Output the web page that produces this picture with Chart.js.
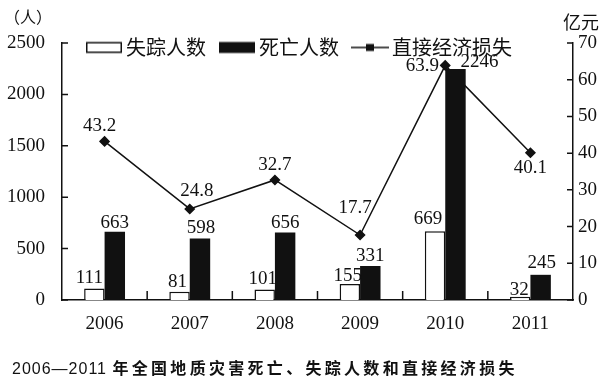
<!DOCTYPE html>
<html><head><meta charset="utf-8">
<script src="https://cdn.jsdelivr.net/npm/chart.js@4"></script>
<style>
html,body{margin:0;padding:0;background:#fff;}
#wrap{position:relative;width:609px;height:381px;overflow:hidden;}
#c{position:absolute;left:0;top:0;}
.t{position:absolute;white-space:nowrap;color:#111;line-height:1;}
</style></head><body>
<div id="wrap">
<canvas id="c" width="609" height="381"></canvas>
<div class="t" style="left:4px;top:4px;font:16px 'Noto Sans CJK SC'">（人）</div>
<div class="t" style="left:563px;top:8px;font:18px 'Noto Sans CJK SC'">亿元</div>
<div class="t" style="left:12px;top:355px;"><span style="font:16px 'Liberation Sans';letter-spacing:1px">2006—2011 </span><span style="font:bold 16px 'Noto Sans CJK SC';letter-spacing:3.3px">年全国地质灾害死亡、失踪人数和直接经济损失</span></div>
</div>
<script>
// ---- data ----
const years = ['2006', '2007', '2008', '2009', '2010', '2011'];
const missing = [111, 81, 101, 155, 669, 32];
const deaths = [663, 598, 656, 331, 2246, 245];
const loss = [43.2, 24.8, 32.7, 17.7, 63.9, 40.1];
const leftTicks = [0, 500, 1000, 1500, 2000, 2500];
const rightTicks = [0, 10, 20, 30, 40, 50, 60, 70];
const seriesNames = ['失踪人数', '死亡人数', '直接经济损失'];

// ---- styles ----
const INK = '#111';
const SERIF = 'Liberation Serif';
const NUM_SIZE = 19;
Chart.defaults.font.family = SERIF;
Chart.defaults.font.size = NUM_SIZE;
Chart.defaults.color = INK;
const numFont = {family: SERIF, size: NUM_SIZE};
const missingLabelOff = [[-5,-11],[-2,-10],[-2,-11],[-2,-8],[-7,-12],[-1,-7]];
const deathsLabelOff = [[0,-9],[1,-11],[0,-10],[0,-10],[24,-7],[1,-12]];
const lossLabelOff = [[-5,-15],[7,-18],[0,-15],[-5,-27],[-23,1],[0,15]];

function makeIcon(kind) {
  const c = document.createElement('canvas');
  c.width = 38; c.height = 14;
  const g = c.getContext('2d');
  if (kind === 0) {
    g.fillStyle = '#fff'; g.fillRect(1, 1.5, 36, 11);
    g.strokeStyle = INK; g.lineWidth = 1.5; g.strokeRect(1.75, 2.25, 34.5, 9.5);
  } else if (kind === 1) {
    g.fillStyle = INK; g.fillRect(1, 1.5, 36, 11);
  } else {
    g.strokeStyle = INK; g.lineWidth = 1.5;
    g.beginPath(); g.moveTo(0, 7); g.lineTo(38, 7); g.stroke();
    g.fillStyle = INK; g.fillRect(15, 3.5, 8, 7);
  }
  return c;
}
const icons = [makeIcon(0), makeIcon(1), makeIcon(2)];

const innerTicks = {
  id: 'innerTicks',
  afterDraw(chart) {
    const {ctx} = chart;
    const x = chart.scales.x, y = chart.scales.y, y1 = chart.scales.y1;
    ctx.save();
    ctx.strokeStyle = INK; ctx.lineWidth = 1.5;
    ctx.beginPath();
    leftTicks.forEach(v => { const p = y.getPixelForValue(v); ctx.moveTo(y.right, p); ctx.lineTo(y.right + 6, p); });
    rightTicks.forEach(v => { const p = y1.getPixelForValue(v); ctx.moveTo(y1.left, p); ctx.lineTo(y1.left - 6, p); });
    for (let i = 0; i < years.length - 1; i++) {
      const p = (x.getPixelForValue(i) + x.getPixelForValue(i + 1)) / 2;
      ctx.moveTo(p, x.top); ctx.lineTo(p, x.top - 9);
    }
    ctx.stroke();
    ctx.restore();
  }
};

const valueLabels = {
  id: 'valueLabels',
  afterDatasetsDraw(chart) {
    const {ctx} = chart;
    ctx.save();
    ctx.font = NUM_SIZE + 'px "' + SERIF + '"';
    ctx.fillStyle = INK;
    ctx.textAlign = 'center';
    ctx.textBaseline = 'middle';
    const sets = [[0, missing, missingLabelOff, v => String(v)], [1, deaths, deathsLabelOff, v => String(v)], [2, loss, lossLabelOff, v => v.toFixed(1)]];
    sets.forEach(([di, vals, offs, fmt]) => {
      const meta = chart.getDatasetMeta(di);
      meta.data.forEach((el, i) => {
        ctx.fillText(fmt(vals[i]), el.x + offs[i][0], el.y + offs[i][1]);
      });
    });
    ctx.restore();
  }
};

// legend sits inside the plot area: take no layout space, then place it
const placeLegend = {
  id: 'placeLegend',
  beforeLayout(chart) {
    const lg = chart.legend;
    if (lg && !lg._noSpace) {
      const f = lg.fit.bind(lg);
      lg.fit = function () { f(); this.height = 0; };
      lg._noSpace = true;
    }
  },
  afterLayout(chart) {
    const lg = chart.legend;
    if (lg) {
      lg.left = 73; lg.top = 18.5;
      lg.height = 40; lg.bottom = lg.top + lg.height;
      lg.width = 536; lg.right = lg.left + lg.width;
    }
  }
};

new Chart(document.getElementById('c'), {
  type: 'bar',
  data: {
    labels: years,
    datasets: [
      {label: seriesNames[0], data: missing, yAxisID: 'y', backgroundColor: '#fff', borderColor: INK, borderWidth: 1.5, categoryPercentage: 0.48, barPercentage: 1, order: 1},
      {label: seriesNames[1], data: deaths, yAxisID: 'y', backgroundColor: INK, borderColor: INK, borderWidth: 0, categoryPercentage: 0.48, barPercentage: 1, order: 1},
      {type: 'line', label: seriesNames[2], data: loss, yAxisID: 'y1', borderColor: INK, borderWidth: 1.5, pointStyle: 'rectRot', pointRadius: 4.5, pointBackgroundColor: INK, pointBorderColor: INK, fill: false, tension: 0, order: 0}
    ]
  },
  options: {
    responsive: false,
    animation: false,
    devicePixelRatio: 1,
    layout: {padding: {top: 43, bottom: 41, left: 0, right: 0}},
    plugins: {
      tooltip: {enabled: false},
      title: {display: false},
      legend: {
        position: 'top',
        align: 'start',
        labels: {
          usePointStyle: true,
          pointStyleWidth: 24,
          padding: 19,
          color: INK,
          font: {family: 'Noto Sans CJK SC', size: 20},
          generateLabels: () => seriesNames.map((n, i) => ({text: n, pointStyle: icons[i], fillStyle: INK, strokeStyle: INK, lineWidth: 0, hidden: false, datasetIndex: i, fontColor: INK}))
        }
      }
    },
    scales: {
      x: {
        offset: true,
        grid: {display: false, drawTicks: false},
        border: {display: true, color: INK, width: 1.5},
        ticks: {color: INK, font: numFont, padding: 13},
        afterFit: s => { s.height = 40; }
      },
      y: {
        position: 'left',
        min: leftTicks[0], max: leftTicks[leftTicks.length - 1],
        grid: {display: false, drawTicks: false},
        border: {display: true, color: INK, width: 1.5},
        ticks: {stepSize: leftTicks[1] - leftTicks[0], color: INK, font: numFont, padding: 17, callback: v => String(v)},
        afterFit: s => { s.width = 62; }
      },
      y1: {
        position: 'right',
        min: rightTicks[0], max: rightTicks[rightTicks.length - 1],
        grid: {display: false, drawTicks: false},
        border: {display: true, color: INK, width: 1.5},
        ticks: {stepSize: rightTicks[1] - rightTicks[0], color: INK, font: numFont, padding: 5, callback: v => String(v)},
        afterFit: s => { s.width = 36; }
      }
    }
  },
  plugins: [innerTicks, valueLabels, placeLegend]
});
</script>
</body></html>
